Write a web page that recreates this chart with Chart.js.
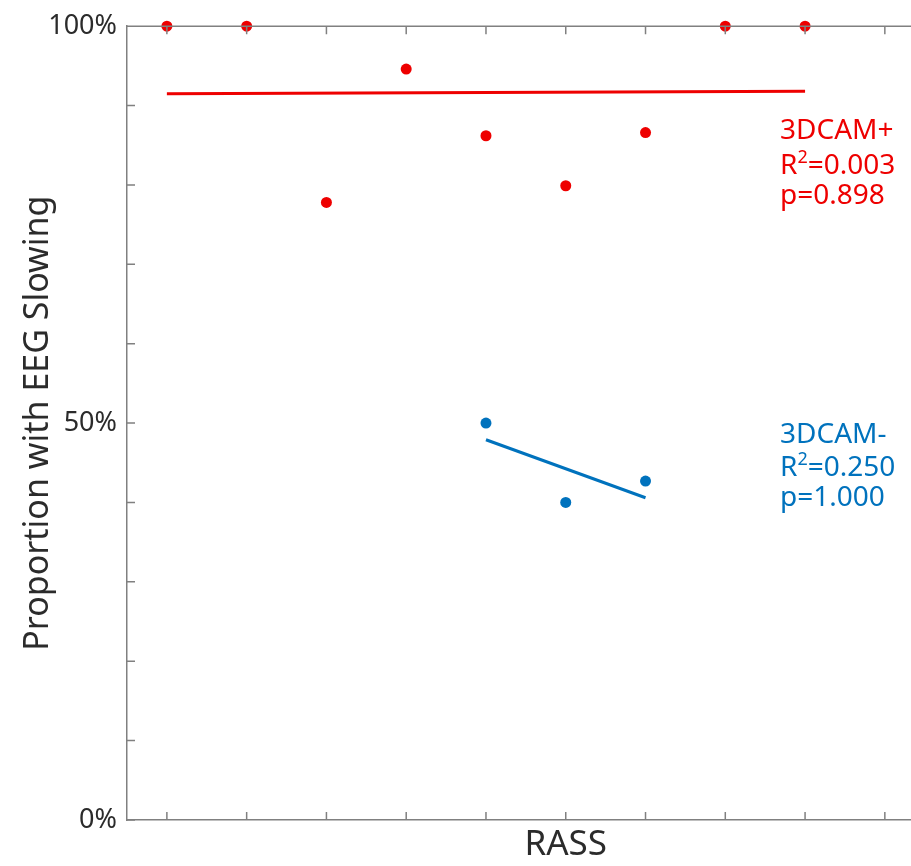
<!DOCTYPE html>
<html>
<head>
<meta charset="utf-8">
<script src="https://cdn.jsdelivr.net/npm/chart.js@4/dist/chart.umd.min.js"></script>
<style>
  html, body { margin: 0; padding: 0; background: #fff; overflow: hidden; }
  #wrap { width: 1010px; height: 866px; }
</style>
</head>
<body>
<div id="wrap"><canvas id="chart1" width="1010" height="866"></canvas></div>
<script>
// RASS positions (tick index along x) and proportions (%)
var rassPos = [1, 2, 3, 4, 5, 6, 7, 8, 9];
var camPos = [100, 100, 77.8, 94.6, 86.2, 79.9, 86.6, 100, 100];

var rassNeg = [5, 6, 7];
var camNeg = [50, 40, 42.7];

// fitted lines (end points)
var fitPosX = [1, 9];
var fitPosY = [91.5, 91.8];
var fitNegX = [5, 7];
var fitNegY = [47.9, 40.6];

var yTicks = [0, 50, 100];

var RED = '#ee0000';
var BLUE = '#0072bd';
var AXIS = '#808080';
var FONT = "'Noto Sans', sans-serif";

function pts(xs, ys) {
  return xs.map(function (x, i) { return { x: x, y: ys[i] }; });
}

// inward tick marks + top frame line
var frame = {
  id: 'frame',
  afterDraw: function (chart) {
    var ctx = chart.ctx, a = chart.chartArea;
    var xs = chart.scales.x, ys = chart.scales.y;
    ctx.save();
    ctx.strokeStyle = AXIS;
    ctx.lineWidth = 1.5;
    ctx.beginPath();
    ctx.moveTo(a.left, a.top);
    ctx.lineTo(a.right, a.top);
    xs.ticks.forEach(function (t) {
      var px = xs.getPixelForValue(t.value);
      ctx.moveTo(px, a.bottom); ctx.lineTo(px, a.bottom - 8);
      ctx.moveTo(px, a.top); ctx.lineTo(px, a.top + 8);
    });
    ys.ticks.forEach(function (t) {
      var py = ys.getPixelForValue(t.value);
      ctx.moveTo(a.left, py); ctx.lineTo(a.left + 8, py);
    });
    ctx.stroke();
    ctx.restore();
  }
};

// stats text beside each group
function drawStats(ctx, x, y, color, lines) {
  ctx.fillStyle = color;
  ctx.textBaseline = 'alphabetic';
  ctx.textAlign = 'left';
  ctx.font = '28px ' + FONT;
  ctx.fillText(lines[0], x, y[0]);
  // R^2 line with superscript
  ctx.fillText('R', x, y[1]);
  var w = ctx.measureText('R').width;
  ctx.font = '18px ' + FONT;
  ctx.fillText('2', x + w, y[1] - 11);
  var w2 = ctx.measureText('2').width;
  ctx.font = '28px ' + FONT;
  ctx.fillText(lines[1], x + w + w2, y[1]);
  ctx.fillText(lines[2], x, y[2]);
}

var stats = {
  id: 'stats',
  afterDraw: function (chart) {
    var ctx = chart.ctx;
    ctx.save();
    drawStats(ctx, 780, [139, 174, 204], RED, ['3DCAM+', '=0.003', 'p=0.898']);
    drawStats(ctx, 780, [443, 476, 506], BLUE, ['3DCAM-', '=0.250', 'p=1.000']);
    ctx.restore();
  }
};

var chartEl = document.getElementById('chart1').getContext('2d');
var myChart = new Chart(chartEl, {
  type: 'scatter',
  data: {
    datasets: [
      {
        data: pts(rassPos, camPos),
        backgroundColor: RED, borderColor: RED,
        pointRadius: 5.5, pointBorderWidth: 0, clip: false
      },
      {
        data: pts(rassNeg, camNeg),
        backgroundColor: BLUE, borderColor: BLUE,
        pointRadius: 5.5, pointBorderWidth: 0, clip: false
      },
      {
        type: 'line',
        data: pts(fitPosX, fitPosY),
        borderColor: RED, borderWidth: 3, pointRadius: 0, fill: false
      },
      {
        type: 'line',
        data: pts(fitNegX, fitNegY),
        borderColor: BLUE, borderWidth: 3, pointRadius: 0, fill: false
      }
    ]
  },
  options: {
    responsive: false,
    animation: false,
    events: [],
    layout: { padding: { top: 24, left: 0, right: 0, bottom: 0 } },
    plugins: { legend: { display: false }, tooltip: { enabled: false } },
    scales: {
      x: {
        type: 'linear',
        min: 0.5, max: 11.5,
        afterBuildTicks: function (s) {
          s.ticks = [1, 2, 3, 4, 5, 6, 7, 8, 9, 10, 11].map(function (v) { return { value: v }; });
        },
        afterFit: function (s) { s.height = 46; },
        grid: { display: false, drawTicks: false },
        border: { display: true, color: AXIS, width: 1.5 },
        ticks: { display: false },
        title: {
          display: true, text: 'RASS', color: '#2b2b2b',
          font: { family: FONT, size: 35 }, padding: { top: 0, bottom: 0 }
        }
      },
      y: {
        min: 0, max: 100,
        afterFit: function (s) { s.width = 127; },
        grid: { display: false, drawTicks: false },
        border: { display: true, color: AXIS, width: 1.5 },
        ticks: {
          stepSize: 10, padding: 10, color: '#2b2b2b',
          font: { family: FONT, size: 27 },
          callback: function (v) { return yTicks.indexOf(v) >= 0 ? v + '%' : ''; }
        },
        title: {
          display: true, text: 'Proportion with EEG Slowing', color: '#2b2b2b',
          font: { family: FONT, size: 34 }, padding: { top: 18, bottom: 0 }
        }
      }
    }
  },
  plugins: [frame, stats]
});
</script>
</body>
</html>
